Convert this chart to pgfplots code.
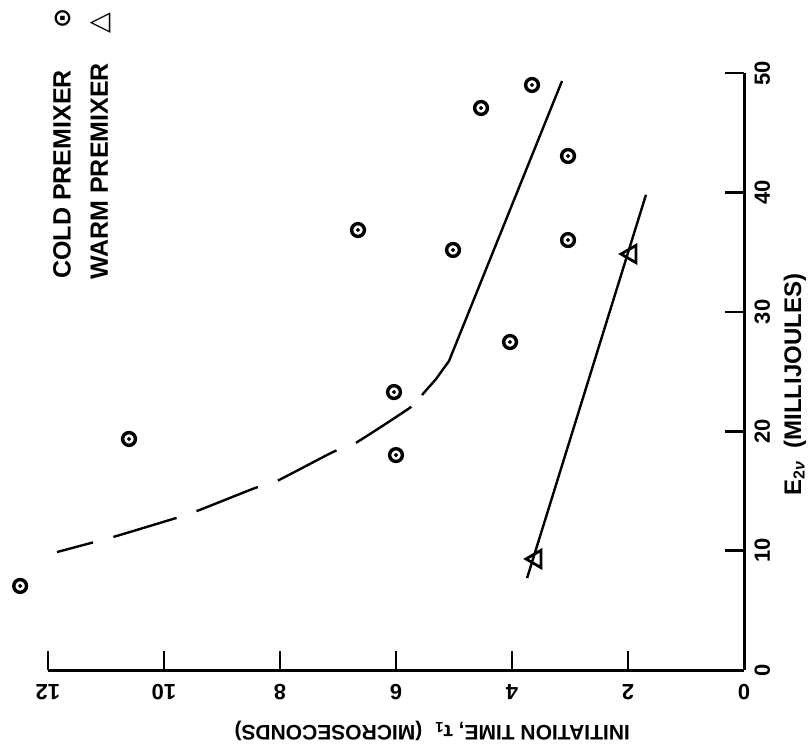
\documentclass[border=0pt]{standalone}
\usepackage{fontspec}
\setmainfont{Liberation Sans}
\newfontfamily\symfont{DejaVu Sans}
\usepackage{pgfplots}
\pgfplotsset{compat=1.18}
\begin{document}
\begin{tikzpicture}
\begin{axis}[
  name=ax,
  scale only axis,
  width=348pt, height=298.5pt,
  xmin=0, xmax=12, ymin=0, ymax=50,
  x dir=reverse,
  clip=false,
  axis x line*=bottom,
  axis y line*=right,
  axis line style={line width=1.5pt},
  tick align=inside,
  major tick length=9.5pt,
  tick style={line width=1.3pt, black},
  xtick={0,2,4,6,8,10,12},
  ytick={0,10,20,30,40,50},
  /pgf/number format/assume math mode=true,
  xticklabel style={rotate=180, anchor=south, inner ysep=7pt, font=\bfseries\fontsize{11}{13}\selectfont},
  yticklabel style={rotate=90, anchor=north, inner ysep=5pt, font=\bfseries\fontsize{11}{13}\selectfont},
  xlabel={INITIATION TIME, τ\textsubscript{1}\hspace{6pt}(MICROSECONDS)},
  ylabel={E\textsubscript{2\textit{ν}}\hspace{6pt}(MILLIJOULES)},
  every axis x label/.style={at={(axis description cs:0.552,-0.102)}, anchor=center, rotate=180, font=\bfseries\fontsize{10.5}{13}\selectfont},
  every axis y label/.style={at={(axis description cs:1.073,0.478)}, anchor=center, rotate=90, font=\bfseries\fontsize{12}{14}\selectfont},
]
% cold premixer fitted line (solid part)
\addplot[black, line width=1.2pt] coordinates {
  (3.138,49.33) (5.086,25.88) (5.31,24.37) (5.552,23.03)
};
% cold premixer fitted line (dashed extrapolation)
\addplot[black, line width=1.2pt, smooth, tension=0.4,
  dash pattern=on 33pt off 10.5pt, dash phase=35.5pt] coordinates {
  (5.552,23.03) (5.741,22.03) (6.724,18.93) (7.086,18.26) (8.086,15.75)
  (8.431,15.24) (9.431,13.32) (9.845,12.65) (10.931,11.06) (11.259,10.64) (11.845,9.88)
};
% warm premixer line
\addplot[black, line width=1.2pt] coordinates {(3.74,7.7) (1.69,39.8)};
% cold premixer data
\addplot[only marks, mark=o, mark size=3.2pt, mark options={line width=1.7pt, black}] coordinates {
  (3.655,49.0) (4.534,47.07) (3.034,43.05) (6.655,36.85) (5.017,35.18) (3.034,36.01)
  (4.034,27.47) (6.034,23.28) (10.603,19.35) (6.0,18.0) (12.48,7.04)
};
\addplot[only marks, mark=*, mark size=0.8pt, mark options={black}] coordinates {
  (3.655,49.0) (4.534,47.07) (3.034,43.05) (6.655,36.85) (5.017,35.18) (3.034,36.01)
  (4.034,27.47) (6.034,23.28) (10.603,19.35) (6.0,18.0) (12.48,7.04)
};
% warm premixer data
\addplot[only marks, mark=triangle, mark size=5pt, mark options={line width=1.4pt, black, rotate=90}] coordinates {
  (1.948,34.84) (3.586,9.30)
};
% legend
\node[rotate=90, anchor=west, inner sep=0pt, font=\bfseries\fontsize{12.5}{14}\selectfont]
  at (axis description cs:0.0201,0.655) {COLD PREMIXER\hspace{21pt}{\symfont\bfseries\fontsize{12}{13}\selectfont ⊙}};
\node[rotate=90, anchor=west, inner sep=0pt, font=\bfseries\fontsize{12.5}{14}\selectfont]
  at (axis description cs:0.0761,0.653) {WARM PREMIXER\hspace{15pt}{\symfont\bfseries\fontsize{13.5}{14}\selectfont △}};
\end{axis}
\pgfresetboundingbox
\path (ax.south west) ++(-24pt,-41pt) rectangle ++(406pt,376pt);
\end{tikzpicture}
\end{document}
